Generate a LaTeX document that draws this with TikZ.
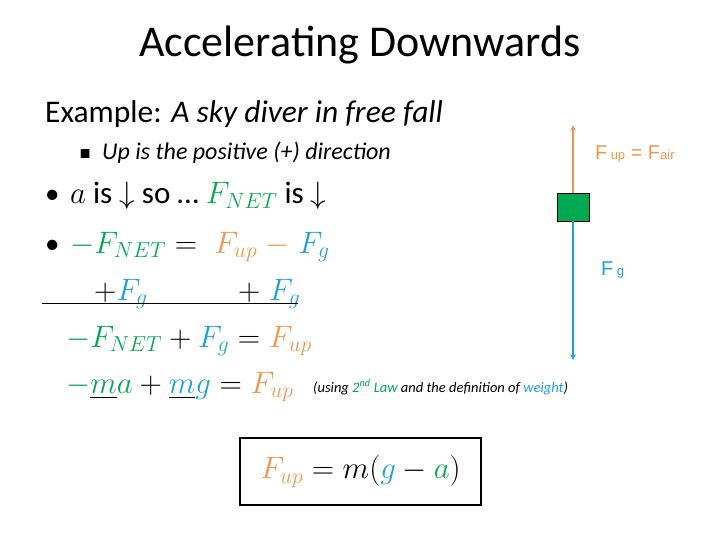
\RequirePackage{fix-cm}
\documentclass[tikz,border=0pt]{standalone}
\usepackage{amssymb}
\usepackage{fontspec}
\setmainfont{Carlito}
\newfontfamily\arial{Liberation Sans}
\definecolor{cg}{RGB}{0,170,80}
\definecolor{co}{RGB}{238,150,80}
\definecolor{cb}{RGB}{30,160,220}
\tikzset{t/.style={anchor=base west,inner sep=0pt},
 big/.style={font=\fontsize{31}{36}\selectfont}}
\newcommand{\FN}{\textcolor{cg}{F_{NET}}}
\newcommand{\Fu}{\textcolor{co}{F_{up}}}
\newcommand{\Fg}{\textcolor{cb}{F_{g}}}
\begin{document}
\begin{tikzpicture}[x=1pt,y=-1pt]
\useasboundingbox (0,0) rectangle (720,540);
\node[inner sep=0pt,font=\fontsize{44}{50}\selectfont] (title) at (360,45) {Accelerating Downwards};
\node[t,font=\fontsize{31.5}{36}\selectfont] (ex) at (45,123) {Example: \textit{A sky diver in free fall}};
\node[t,font=\fontsize{13}{14}\selectfont] (sq) at (80,159) {$\blacksquare$};
\node[t,font=\fontsize{24}{28}\selectfont] (up) at (102,160) {\textit{Up is the positive (+) direction}};
\node[t,font=\fontsize{29}{34}\selectfont] (b1) at (45,204) {\textbullet};
\node[t,big] (l1) at (70,204) {$a$ is $\downarrow$ so \dots\ $\FN$ is $\downarrow$};
\node[t,font=\fontsize{29}{34}\selectfont] (b2) at (45,253) {\textbullet};
\node[t,big] (l2) at (70,253) {$\textcolor{cg}{-}\FN = \;\Fu \textcolor{co}{\;-\;}\Fg$};
\node[t,big] (l3a) at (94,300) {$+\Fg$};
\node[t,big] (l3b) at (238,300) {$+\;\Fg$};
\draw[line width=1pt] (42,303) -- (298,303);
\node[t,big] (l4) at (66,347) {$\textcolor{cg}{-}\FN + \Fg = \Fu$};
\node[t,big] (l5) at (66,393) {$\textcolor{cg}{-}\underline{\textcolor{cg}{m}}\textcolor{cg}{a} + \underline{\textcolor{cb}{m}}\textcolor{cb}{g} = \Fu$};
\node[t,font=\fontsize{14.5}{16}\selectfont] (note) at (313,392) {\textit{(using \textcolor{cg}{2\textsuperscript{nd} Law} and the definition of \textcolor{cb}{weight})}};
\node[draw,line width=1.2pt,minimum width=241pt,minimum height=67pt,inner sep=0pt,font=\fontsize{31}{36}\selectfont] (box) at (360.5,471.5) {$\Fu = m(\textcolor{cb}{g} - \textcolor{cg}{a})$};
\node[draw,fill=cg,minimum width=32pt,minimum height=28pt,inner sep=0pt] (diver) at (573,207) {};
\coordinate (top) at (573,125);
\coordinate (bot) at (573,360);
\draw[co,line width=1.5pt,-stealth] (diver.north) -- (top);
\draw[cb,line width=1.5pt,-stealth] (diver.south) -- (bot);
\node[t,co,font=\arial\fontsize{20}{22}\selectfont] (fu) at (595,160) {F\,{\fontsize{13}{14}\selectfont up} = F{\fontsize{13}{14}\selectfont air}};
\node[t,cb,font=\arial\fontsize{20}{22}\selectfont] (fg) at (601,275) {F\,{\fontsize{13}{14}\selectfont g}};
\end{tikzpicture}
\end{document}
